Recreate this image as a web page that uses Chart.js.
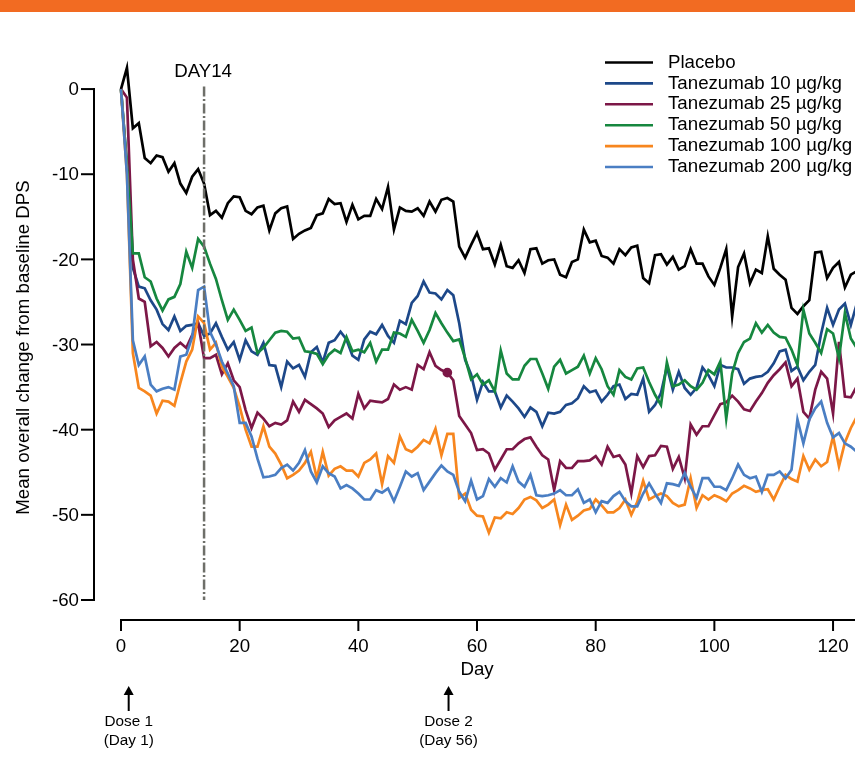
<!DOCTYPE html>
<html>
<head>
<meta charset="utf-8">
<title>Tanezumab DPS</title>
<script src="https://cdn.jsdelivr.net/npm/chart.js@4.4.1/dist/chart.umd.min.js"></script>
<style>
  body { margin: 0; background: #fff; }
  #wrap { width: 855px; height: 772px; }
</style>
</head>
<body>
<div id="wrap"><canvas id="mychart" width="855" height="772"></canvas></div>
<script>
// days 0..124, one value per day
let days = [];
for (let d = 0; d <= 124; d++) days.push(d);

let seriesNames = ["Placebo", "Tanezumab 10 \u00b5g/kg", "Tanezumab 25 \u00b5g/kg", "Tanezumab 50 \u00b5g/kg", "Tanezumab 100 \u00b5g/kg", "Tanezumab 200 \u00b5g/kg"];
let seriesColors = ["#000000", "#1d4889", "#7c1747", "#16873f", "#f7861e", "#4a7ec3"];

let yTicks = [0, -10, -20, -30, -40, -50, -60];
let xTicks = [0, 20, 40, 60, 80, 100, 120];

let placebo = [0, 2.5, -4.6, -4.0, -8.1, -8.7, -7.8, -8.0, -9.7, -8.7,
  -11.1, -12.2, -10.3, -9.4, -11.1, -14.8, -14.3, -15.1, -13.4, -12.6,
  -12.7, -14.3, -14.7, -13.9, -13.7, -16.6, -14.6, -14.0, -13.8, -17.6,
  -17.0, -16.6, -16.3, -14.8, -14.6, -12.9, -13.5, -13.4, -15.6, -13.6,
  -15.3, -14.9, -14.9, -12.9, -14.1, -11.5, -16.5, -13.9, -14.3, -14.4,
  -14.0, -14.9, -13.2, -14.4, -13.0, -12.8, -13.2, -18.5, -19.8, -18.3,
  -16.9, -18.8, -18.7, -20.6, -18.3, -20.8, -21.0, -20.1, -21.6, -18.8,
  -18.7, -20.5, -20.1, -20.0, -21.8, -22.1, -20.3, -20.0, -16.5, -18.0,
  -17.8, -19.6, -19.8, -20.5, -18.8, -19.5, -18.6, -18.4, -22.2, -22.8,
  -19.5, -19.4, -20.6, -19.7, -21.2, -20.8, -18.8, -20.5, -20.5, -22.0,
  -23.0, -21.0, -18.8, -26.7, -20.9, -19.3, -22.8, -21.2, -21.6, -17.3,
  -21.1, -21.8, -22.4, -25.7, -26.4, -25.5, -24.8, -19.2, -19.1, -22.2,
  -21.0, -20.3, -23.3, -21.8, -21.4];

let tz10 = [0, -9, -21, -23.2, -23.4, -24.8, -25.9, -27.6, -28.3, -26.7,
  -28.4, -27.8, -27.7, -27.5, -29.0, -28.7, -27.5, -29.1, -30.6, -29.7,
  -31.8, -29.5, -30.8, -31.2, -29.8, -32.4, -32.5, -35.0, -32.0, -32.8,
  -32.4, -33.8, -30.9, -30.3, -32.1, -29.8, -29.5, -28.5, -29.4, -31.3,
  -31.8, -29.4, -28.5, -28.8, -27.7, -29.0, -29.8, -27.2, -27.6, -25.1,
  -24.3, -22.6, -23.9, -24.0, -24.7, -23.6, -24.2, -27.5, -31.8, -33.5,
  -36.5, -34.4, -35.5, -35.5, -37.4, -36.0, -36.7, -37.5, -38.5, -37.4,
  -37.9, -39.6, -38.0, -38.1, -37.9, -37.1, -36.9, -36.3, -34.9, -35.6,
  -35.4, -36.7, -35.9, -34.9, -34.7, -36.4, -35.8, -35.9, -34.0, -37.9,
  -37.1, -35.7, -32.6, -35.3, -33.2, -35.1, -35.9, -35.1, -32.7, -33.6,
  -34.9, -32.4, -32.7, -32.7, -32.9, -34.6, -34.0, -33.8, -33.7, -33.2,
  -32.2, -30.8, -30.6, -33.1, -32.6, -34.2, -33.2, -32.4, -28.7, -25.7,
  -27.7, -25.9, -25.2, -27.7, -25.2];

let tz25 = [0, -1, -20, -24.6, -25.0, -30.2, -29.7, -30.4, -31.4, -30.4,
  -29.8, -30.4, -28.9, -27.5, -31.6, -31.6, -31.2, -33.5, -32.2, -34.2,
  -35.0, -37.7, -39.8, -38.0, -38.7, -39.6, -39.2, -39.4, -38.9, -36.7,
  -37.9, -36.5, -37.0, -37.5, -38.1, -39.7, -38.9, -38.5, -38.1, -38.7,
  -35.8, -37.5, -36.6, -36.7, -36.8, -36.4, -34.7, -35.3, -35.0, -35.3,
  -32.4, -32.9, -30.9, -32.5, -33.0, -33.3, -34.2, -38.4, -39.4, -40.4,
  -42.4, -42.3, -42.8, -44.7, -43.5, -42.3, -42.3, -41.6, -41.1, -40.9,
  -42.0, -43.0, -43.5, -47.1, -43.7, -44.5, -44.5, -43.7, -43.7, -43.6,
  -43.1, -44.1, -42.0, -43.2, -43.0, -44.1, -47.5, -43.1, -44.4, -43.1,
  -43.0, -41.9, -42.0, -44.6, -43.2, -45.7, -39.4, -40.6, -39.6, -39.6,
  -38.3, -37.0, -36.8, -36.0, -36.7, -37.6, -37.8, -36.7, -35.7, -34.5,
  -33.6, -32.9, -32.1, -34.9, -34.0, -37.9, -38.7, -35.3, -33.2, -34.0,
  -38.1, -29.7, -36.1, -36.2, -34.9];

let tz50 = [0, -9, -19.3, -19.3, -22.1, -22.6, -24.6, -26.0, -24.7, -24.4,
  -22.9, -19.1, -21.0, -17.6, -18.5, -20.5, -22.3, -24.8, -27.1, -25.9,
  -27.1, -28.4, -28.0, -31.0, -30.4, -29.5, -28.6, -28.4, -28.5, -29.3,
  -29.2, -30.8, -30.9, -31.1, -32.3, -31.2, -30.6, -31.0, -29.1, -30.8,
  -30.6, -30.9, -29.8, -32.0, -30.6, -30.6, -28.6, -28.7, -29.1, -27.1,
  -28.4, -29.8, -28.3, -26.3, -27.5, -28.6, -29.6, -29.4, -31.6, -34.1,
  -33.5, -34.7, -34.2, -35.5, -30.7, -33.4, -34.1, -34.1, -32.5, -31.7,
  -31.7, -33.4, -35.2, -32.6, -31.8, -33.4, -33.0, -32.6, -31.3, -33.4,
  -31.6, -32.9, -34.9, -35.9, -33.0, -33.8, -34.1, -32.8, -32.7, -34.4,
  -35.9, -37.1, -32.1, -34.9, -34.7, -34.2, -34.9, -35.3, -34.5, -33.0,
  -33.5, -32.0, -38.7, -33.4, -31.0, -29.7, -29.3, -27.5, -28.6, -27.7,
  -28.6, -29.1, -29.2, -30.6, -32.4, -25.9, -28.7, -29.8, -31.0, -28.2,
  -28.7, -31.6, -26.3, -29.3, -30.4];

let tz100 = [0, -10, -31, -35.1, -35.5, -36.0, -38.1, -36.6, -36.7, -37.2,
  -34.5, -32.0, -30.6, -26.7, -27.5, -30.6, -29.8, -32.6, -33.8, -35.1,
  -37.3, -40.0, -42.0, -42.0, -39.6, -42.0, -42.8, -44.1, -45.7, -45.3,
  -44.8, -43.9, -42.6, -45.7, -42.6, -45.4, -44.6, -44.3, -44.8, -44.8,
  -45.5, -43.9, -43.5, -42.8, -46.4, -43.1, -43.9, -40.8, -42.3, -42.6,
  -42.0, -41.2, -41.6, -39.9, -43.0, -40.5, -40.5, -48.0, -47.5, -49.4,
  -50.1, -50.2, -52.1, -50.3, -50.4, -49.7, -49.9, -49.2, -48.2, -47.9,
  -48.3, -49.2, -48.8, -48.2, -51.2, -48.8, -50.6, -50.1, -49.5, -49.3,
  -48.2, -48.9, -49.7, -49.7, -49.2, -48.2, -50.0, -48.5, -46.0, -48.2,
  -47.8, -47.5, -47.8, -48.6, -49.0, -48.8, -45.7, -49.2, -47.7, -48.2,
  -47.7, -48.0, -48.4, -47.5, -47.1, -46.6, -46.9, -47.3, -47.1, -47.0,
  -48.2, -46.7, -45.3, -45.8, -46.1, -43.1, -44.7, -43.5, -44.3, -43.8,
  -40.8, -44.3, -41.5, -39.8, -38.5];

let tz200 = [0, -10, -29.5, -32.4, -31.4, -34.7, -35.5, -35.2, -35.0, -35.3,
  -31.4, -31.2, -29.1, -23.6, -23.2, -28.5, -30.0, -32.0, -33.4, -34.9,
  -39.2, -39.2, -40.8, -43.4, -45.6, -45.5, -45.3, -44.5, -44.1, -44.8,
  -43.9, -42.4, -44.9, -46.2, -44.3, -45.1, -45.5, -46.9, -46.5, -46.9,
  -47.5, -48.2, -48.2, -47.1, -47.4, -46.9, -48.4, -46.7, -44.9, -45.5,
  -45.1, -47.1, -46.1, -45.1, -44.2, -44.9, -45.3, -47.3, -48.4, -46.0,
  -48.2, -47.8, -45.8, -46.7, -45.7, -46.2, -44.3, -46.1, -46.7, -45.3,
  -47.7, -47.8, -47.7, -47.5, -47.1, -47.7, -47.7, -47.0, -48.6, -48.2,
  -49.7, -48.4, -48.6, -47.8, -47.3, -48.4, -49.0, -49.0, -47.5, -46.3,
  -47.5, -48.6, -46.3, -46.4, -46.6, -45.1, -46.7, -48.0, -45.7, -45.7,
  -46.7, -46.7, -47.1, -45.7, -44.1, -45.3, -45.7, -45.5, -47.3, -45.3,
  -45.3, -44.9, -45.7, -44.7, -38.8, -41.6, -38.8, -37.5, -36.7, -39.2,
  -40.9, -40.4, -41.6, -42.0, -42.6];

let allSeries = [placebo, tz10, tz25, tz50, tz100, tz200];

// vertical marker and dose annotations
let markerDay = 14;
let markerLabel = "DAY14";
let doseAt = [1.3, 55.2];   // where the arrows sit on the day axis
let doseText = [["Dose 1", "(Day 1)"], ["Dose 2", "(Day 56)"]];
let dotDay = 55; // the small dot on the 25 µg/kg line

let FONT = '"Liberation Sans", Arial, sans-serif';
let FSIZE = '18.7px ';

function buildDatasets() {
  let sets = [];
  allSeries.forEach(function (vals, i) {
    let pts = days.map(function (d, j) { return { x: d, y: vals[j] }; });
    let radius = 0;
    if (i === 2) {
      radius = days.map(function (d) { return d === dotDay ? 3.5 : 0; });
    }
    sets.push({
      label: seriesNames[i],
      data: pts,
      borderColor: seriesColors[i],
      backgroundColor: seriesColors[i],
      borderWidth: 2.7,
      pointRadius: radius,
      pointHoverRadius: 0,
      tension: 0,
      order: allSeries.length - i
    });
  });
  return sets;
}

// draws the axes, legend and notes around the plot
let decorations = {
  id: 'decorations',
  beforeDraw: function (chart) {
    let ctx = chart.ctx;
    ctx.save();
    ctx.fillStyle = '#fff';
    ctx.fillRect(0, 0, chart.width, chart.height);
    ctx.fillStyle = '#f26b22';
    ctx.fillRect(0, 0, chart.width, 12);
    ctx.restore();
  },
  afterDatasetsDraw: function (chart) {
    let ctx = chart.ctx;
    let xs = chart.scales.x;
    let ys = chart.scales.y;
    let area = chart.chartArea;
    ctx.save();

    // DAY14 line
    let mx = xs.getPixelForValue(markerDay);
    ctx.strokeStyle = '#6e6f69';
    ctx.lineWidth = 2.5;
    ctx.setLineDash([10, 2.5, 2, 2.5]);
    ctx.beginPath();
    ctx.moveTo(mx, ys.getPixelForValue(0.3));
    ctx.lineTo(mx, ys.getPixelForValue(-60));
    ctx.stroke();
    ctx.setLineDash([]);

    ctx.fillStyle = '#000';
    ctx.font = FSIZE + FONT;
    ctx.textAlign = 'center';
    ctx.textBaseline = 'middle';
    ctx.fillText(markerLabel, mx - 1, 72);

    // y axis
    ctx.strokeStyle = '#000';
    ctx.lineWidth = 2;
    let yTop = ys.getPixelForValue(yTicks[0]);
    let yBot = ys.getPixelForValue(yTicks[yTicks.length - 1]);
    ctx.beginPath();
    ctx.moveTo(area.left, yTop - 1);
    ctx.lineTo(area.left, yBot + 1);
    ctx.stroke();
    ctx.textAlign = 'right';
    yTicks.forEach(function (v) {
      let py = ys.getPixelForValue(v);
      ctx.beginPath();
      ctx.moveTo(area.left - 13, py);
      ctx.lineTo(area.left, py);
      ctx.stroke();
      ctx.fillText(String(v), area.left - 15, py + 1);
    });

    // x axis
    let x0 = xs.getPixelForValue(xTicks[0]);
    ctx.beginPath();
    ctx.moveTo(x0 - 1, area.bottom);
    ctx.lineTo(chart.width, area.bottom);
    ctx.stroke();
    ctx.textAlign = 'center';
    xTicks.forEach(function (v) {
      let px = xs.getPixelForValue(v);
      ctx.beginPath();
      ctx.moveTo(px, area.bottom);
      ctx.lineTo(px, area.bottom + 11);
      ctx.stroke();
      ctx.fillText(String(v), px, area.bottom + 27);
    });
    ctx.fillText('Day', xs.getPixelForValue(60), area.bottom + 50);

    // y title
    ctx.save();
    ctx.translate(24, ys.getPixelForValue(-30) + 3);
    ctx.rotate(-Math.PI / 2);
    ctx.fillText('Mean overall change from baseline DPS', 0, 0);
    ctx.restore();

    // dose arrows
    ctx.font = '15.3px ' + FONT;
    ctx.lineWidth = 2;
    doseAt.forEach(function (d, i) {
      let px = xs.getPixelForValue(d);
      ctx.beginPath();
      ctx.moveTo(px, 692);
      ctx.lineTo(px, 711);
      ctx.stroke();
      ctx.beginPath();
      ctx.moveTo(px, 686);
      ctx.lineTo(px - 5, 695);
      ctx.lineTo(px + 5, 695);
      ctx.closePath();
      ctx.fill();
      ctx.fillText(doseText[i][0], px, 722);
      ctx.fillText(doseText[i][1], px, 741);
    });

    // legend
    ctx.font = FSIZE + FONT;
    ctx.textAlign = 'left';
    ctx.lineWidth = 2.6;
    chart.data.datasets.forEach(function (ds, i) {
      let ly = 62.5 + i * 20.9;
      ctx.strokeStyle = ds.borderColor;
      ctx.beginPath();
      ctx.moveTo(605, ly);
      ctx.lineTo(653, ly);
      ctx.stroke();
      ctx.fillStyle = '#000';
      ctx.fillText(ds.label, 668, ly);
    });

    ctx.restore();
  }
};

new Chart(document.getElementById('mychart'), {
  type: 'line',
  data: { datasets: buildDatasets() },
  options: {
    responsive: false,
    animation: false,
    devicePixelRatio: 1,
    layout: { padding: { left: 94, right: 0, top: 12, bottom: 152 } },
    scales: {
      x: { type: 'linear', min: -4.55, max: 123.7, display: false },
      y: { type: 'linear', min: -62.35, max: 9.05, display: false }
    },
    plugins: {
      legend: { display: false },
      tooltip: { enabled: false }
    }
  },
  plugins: [decorations]
});
</script>
</body>
</html>
